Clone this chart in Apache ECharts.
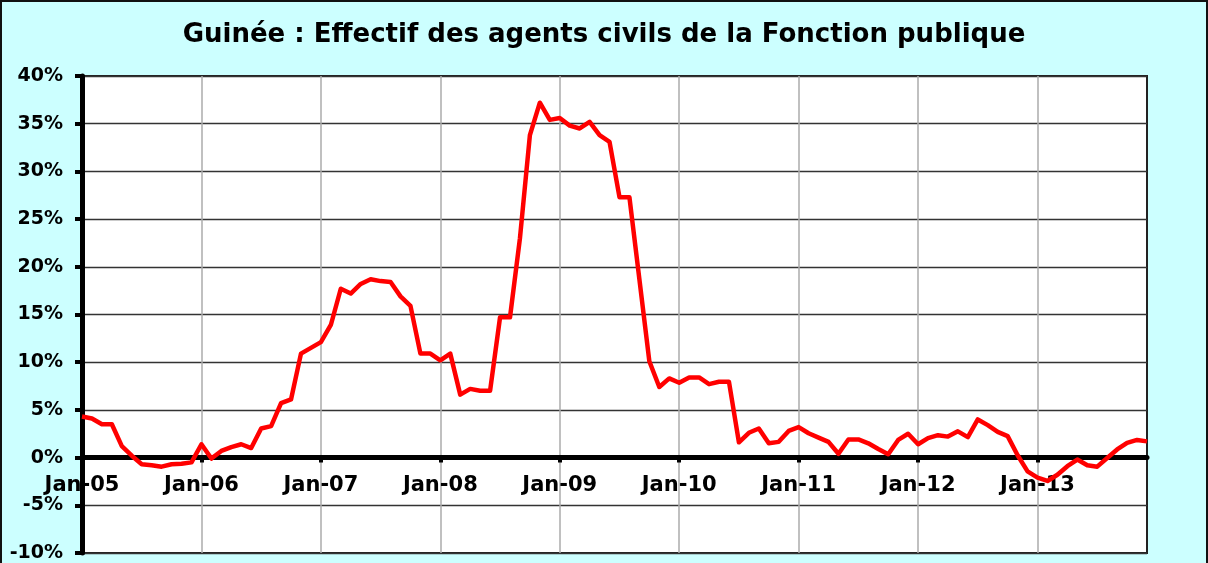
<!DOCTYPE html>
<html>
<head>
<meta charset="utf-8">
<script src="https://cdn.jsdelivr.net/npm/echarts@6/dist/echarts.min.js"></script>
<style>
  html, body { margin: 0; padding: 0; background: #CCFFFF; }
  #chart { position: absolute; left: 0; top: 0; width: 1208px; height: 563px; }
  #frame { position: absolute; left: 0; top: 0; width: 1208px; height: 600px; box-sizing: border-box;
           border: 2px solid #111; pointer-events: none; }
</style>
</head>
<body>
<div id="chart"></div>
<div id="frame"></div>
<script>
// ---- data ----
const months = ['Jan','Feb','Mar','Apr','May','Jun','Jul','Aug','Sep','Oct','Nov','Dec'];
const years = ['05','06','07','08','09','10','11','12','13'];
const yTicks = [-10, -5, 0, 5, 10, 15, 20, 25, 30, 35, 40];

const v2005 = [4.3, 4.1, 3.5, 3.5, 1.2, 0.2, -0.7, -0.8, -0.95, -0.7, -0.65, -0.5];
const v2006 = [1.4, -0.1, 0.7, 1.1, 1.4, 1.0, 3.05, 3.3, 5.7, 6.1, 10.9, 11.5];
const v2007 = [12.1, 13.9, 17.7, 17.2, 18.2, 18.7, 18.5, 18.4, 16.9, 15.9, 10.9, 10.9];
const v2008 = [10.2, 10.9, 6.6, 7.2, 7.0, 7.0, 14.7, 14.7, 23.0, 33.8, 37.2, 35.4];
const v2009 = [35.6, 34.8, 34.5, 35.2, 33.8, 33.1, 27.3, 27.3, 18.7, 10.1, 7.4, 8.3];
const v2010 = [7.85, 8.4, 8.4, 7.7, 7.95, 7.95, 1.6, 2.6, 3.05, 1.5, 1.65, 2.8];
const v2011 = [3.2, 2.55, 2.1, 1.65, 0.4, 1.9, 1.9, 1.5, 0.9, 0.35, 1.85, 2.5];
const v2012 = [1.4, 2.05, 2.35, 2.2, 2.75, 2.15, 4.0, 3.4, 2.7, 2.25, 0.25, -1.45];
const v2013 = [-2.1, -2.45, -1.8, -0.9, -0.2, -0.8, -0.95, -0.05, 0.85, 1.55, 1.85, 1.7];

const titleText = 'Guinée : Effectif des agents civils de la Fonction publique';

// ---- build ----
const categories = [];
years.forEach(y => months.forEach(m => categories.push(m + '-' + y)));
const values = [].concat(v2005, v2006, v2007, v2008, v2009, v2010, v2011, v2012, v2013);

const FONT = 'DejaVu Sans';
const chart = echarts.init(document.getElementById('chart'), null, { renderer: 'canvas' });
chart.setOption({
  backgroundColor: '#CCFFFF',
  animation: false,
  title: {
    text: titleText,
    left: 'center',
    top: 17,
    textStyle: { fontFamily: FONT, fontWeight: 'bold', fontSize: 26, color: '#000' }
  },
  grid: {
    left: 82, right: 61, top: 76, bottom: 10,
    containLabel: false,
    outerBoundsMode: 'none',
    show: true, backgroundColor: '#FFFFFF', borderColor: '#222', borderWidth: 2
  },
  xAxis: {
    type: 'category',
    data: categories,
    boundaryGap: false,
    axisLine: { onZero: true, lineStyle: { color: '#000', width: 5 } },
    axisTick: { show: true, interval: 11, length: 5, lineStyle: { color: '#000', width: 4 } },
    axisLabel: {
      interval: 11, margin: -78,
      fontFamily: FONT, fontWeight: 'bold', fontSize: 21, color: '#000'
    },
    splitLine: { show: true, interval: 11, lineStyle: { color: '#ABABAB', width: 1.5 } }
  },
  yAxis: {
    type: 'value',
    min: yTicks[0], max: yTicks[yTicks.length - 1], interval: 5,
    axisLine: { show: true, lineStyle: { color: '#000', width: 5 } },
    axisTick: { show: true, length: 7, lineStyle: { color: '#000', width: 4 } },
    axisLabel: {
      formatter: '{value}%', margin: 19,
      fontFamily: FONT, fontWeight: 'bold', fontSize: 19, color: '#000'
    },
    splitLine: { show: true, lineStyle: { color: '#333', width: 1.3 } }
  },
  series: [{
    type: 'line',
    data: values,
    showSymbol: false,
    symbol: 'none',
    lineStyle: { color: '#FF0000', width: 4.5, join: 'round' },
    z: 5
  }]
});
</script>
</body>
</html>
